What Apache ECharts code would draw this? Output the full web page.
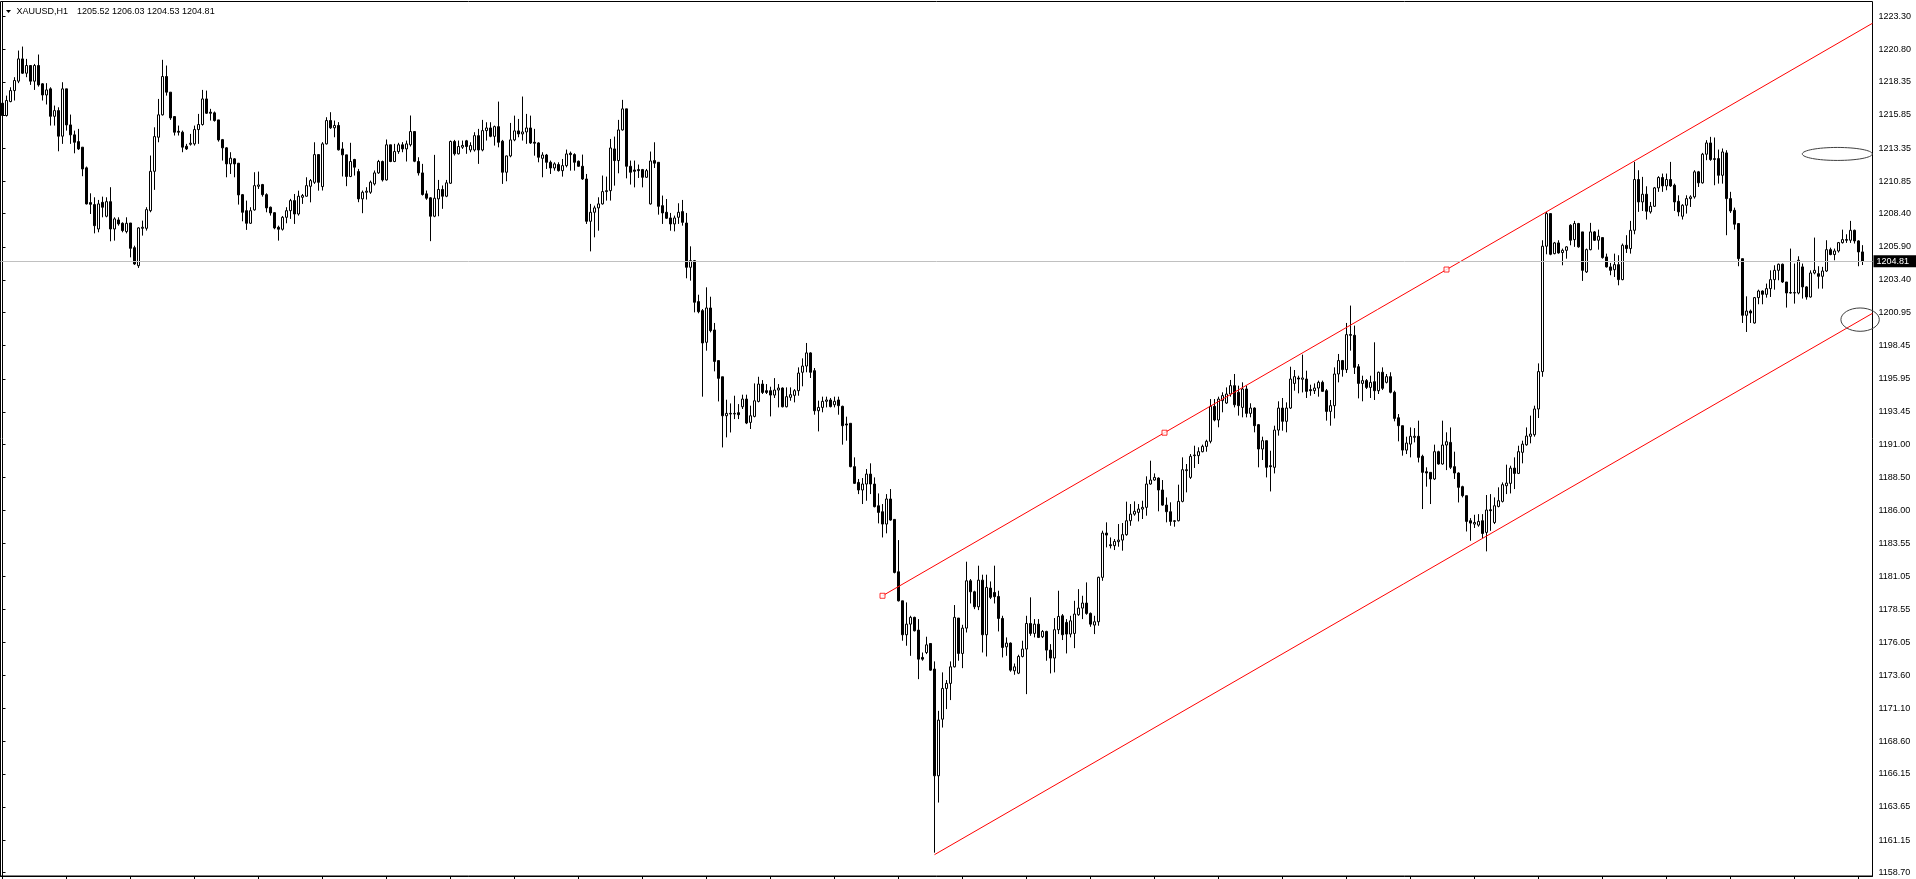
<!DOCTYPE html>
<html><head><meta charset="utf-8">
<script src="https://cdn.jsdelivr.net/npm/echarts@6/dist/echarts.min.js"></script>
<style>html,body{margin:0;padding:0;background:#fff;}#c{width:1916px;height:879px;}</style>
</head><body><div id="c"></div>
<script>
const symbolName = 'XAUUSD,H1';
const lastBar = [1205.52, 1206.03, 1204.53, 1204.81]; // open high low close
const currentPrice = 1204.81;
// one row per H1 bar: [open, high, low, close]
const ohlc = [
[1216.74,1216.94,1215.73,1215.81],[1215.81,1217.31,1215.73,1216.94],[1216.86,1217.94,1216.81,1217.69],[1217.69,1218.70,1216.94,1218.45],
[1218.40,1220.71,1218.25,1220.08],[1220.08,1221.01,1218.95,1219.00],[1219.00,1220.08,1218.70,1219.58],[1219.58,1219.58,1218.12,1218.40],
[1218.40,1219.70,1217.74,1219.58],[1219.58,1220.41,1217.99,1218.12],[1218.20,1218.25,1216.94,1217.36],[1217.36,1218.25,1216.64,1217.74],
[1217.82,1217.94,1215.05,1215.75],[1215.75,1216.56,1215.05,1216.18],[1216.18,1216.43,1213.11,1214.25],[1214.25,1218.32,1213.67,1217.82],
[1217.82,1217.82,1214.67,1215.10],[1215.10,1215.88,1213.67,1214.35],[1214.35,1214.67,1212.96,1213.79],[1213.84,1214.80,1213.21,1213.29],
[1213.42,1213.42,1211.23,1211.78],[1211.86,1211.96,1209.10,1209.14],[1209.24,1209.94,1208.38,1209.11],[1209.09,1209.64,1206.92,1207.50],
[1207.25,1209.44,1207.00,1209.14],[1209.26,1209.69,1208.13,1208.89],[1208.21,1209.64,1208.13,1209.31],[1209.31,1210.40,1206.32,1207.25],
[1207.25,1208.13,1206.37,1208.01],[1207.93,1208.13,1207.50,1207.63],[1207.68,1207.75,1207.00,1207.13],[1207.05,1208.13,1206.92,1207.68],
[1207.70,1207.70,1205.11,1205.79],[1205.84,1205.99,1204.54,1204.61],[1204.48,1207.38,1204.31,1207.33],[1207.30,1207.88,1206.75,1207.38],
[1207.30,1208.89,1207.13,1208.71],[1208.63,1212.79,1208.51,1211.60],[1211.60,1214.92,1210.20,1214.22],[1214.17,1217.06,1213.79,1215.86],
[1215.86,1220.01,1215.81,1218.75],[1218.75,1219.58,1217.31,1217.57],[1217.57,1217.57,1215.48,1215.63],[1215.73,1215.73,1214.30,1214.55],
[1214.62,1215.05,1214.30,1214.55],[1214.55,1214.67,1213.04,1213.42],[1213.49,1213.67,1213.21,1213.29],[1213.64,1214.42,1213.54,1213.72],
[1213.67,1215.05,1213.54,1214.75],[1214.75,1215.93,1213.67,1215.13],[1215.13,1217.74,1215.05,1217.06],[1217.06,1217.69,1215.93,1215.98],
[1216.06,1216.31,1215.43,1215.98],[1216.01,1216.11,1215.35,1215.43],[1215.48,1215.48,1213.84,1213.97],[1213.99,1214.04,1212.41,1213.37],
[1213.37,1213.42,1211.15,1212.16],[1212.16,1213.04,1211.40,1212.59],[1212.54,1212.59,1211.15,1212.16],[1212.21,1212.23,1209.09,1209.82],
[1209.84,1209.89,1207.83,1208.51],[1208.63,1209.39,1207.18,1207.68],[1207.68,1208.89,1207.63,1208.63],[1208.69,1211.53,1208.63,1210.52],
[1210.47,1211.58,1210.27,1210.57],[1210.60,1210.65,1209.69,1209.84],[1209.84,1209.94,1208.51,1208.84],[1208.89,1208.94,1208.26,1208.46],
[1208.48,1208.51,1207.23,1207.33],[1207.38,1207.50,1206.37,1207.23],[1207.23,1208.23,1207.13,1208.13],[1208.13,1208.89,1207.68,1208.63],
[1208.63,1209.52,1208.01,1209.39],[1209.39,1209.89,1207.63,1208.38],[1208.38,1210.14,1208.26,1209.72],[1209.64,1209.89,1209.14,1209.77],
[1209.72,1211.15,1209.69,1210.52],[1210.47,1211.02,1209.26,1210.90],[1210.77,1213.79,1210.65,1212.86],[1212.86,1212.86,1210.14,1210.77],
[1210.45,1213.80,1210.15,1213.67],[1213.67,1215.68,1213.62,1215.43],[1215.43,1216.06,1214.80,1214.88],[1214.88,1215.43,1214.17,1215.06],
[1215.06,1215.31,1213.17,1213.22],[1213.29,1213.80,1211.21,1212.84],[1212.84,1212.84,1210.48,1211.21],[1211.21,1213.75,1211.16,1212.34],
[1212.49,1212.54,1211.28,1211.91],[1211.58,1211.78,1209.27,1209.52],[1209.52,1210.15,1208.44,1210.02],[1210.02,1210.40,1209.47,1210.10],
[1210.02,1210.90,1209.90,1210.78],[1210.65,1211.66,1210.53,1211.48],[1211.48,1212.46,1211.41,1212.34],[1212.34,1212.41,1210.83,1210.95],
[1210.95,1214.00,1210.90,1213.60],[1213.60,1213.60,1212.29,1212.34],[1212.34,1213.67,1212.29,1213.09],[1213.09,1213.75,1212.92,1213.60],
[1213.60,1213.80,1213.04,1213.29],[1213.29,1213.92,1212.34,1213.67],[1213.60,1215.81,1213.47,1214.60],[1214.60,1214.60,1212.29,1212.36],
[1212.34,1212.66,1211.28,1211.48],[1211.48,1212.16,1209.77,1209.85],[1209.90,1210.15,1209.45,1209.57],[1209.60,1209.65,1206.33,1208.21],
[1208.21,1212.84,1208.14,1209.57],[1209.52,1210.95,1208.21,1210.23],[1210.23,1210.53,1208.77,1209.72],[1209.72,1210.95,1209.65,1210.73],
[1210.70,1213.92,1210.65,1213.85],[1213.85,1213.97,1212.79,1212.92],[1212.92,1213.92,1212.87,1213.47],[1213.42,1213.92,1213.29,1213.55],
[1213.90,1213.97,1212.92,1213.47],[1213.21,1213.79,1213.04,1213.54],[1213.21,1214.55,1213.09,1214.29],[1214.29,1214.80,1212.16,1213.21],
[1213.21,1215.48,1213.11,1214.67],[1214.67,1215.30,1213.92,1214.87],[1214.87,1215.30,1214.17,1214.24],[1214.24,1215.05,1213.54,1214.97],
[1214.97,1216.86,1213.41,1213.79],[1213.87,1213.97,1210.65,1211.53],[1211.53,1212.78,1210.85,1212.76],[1212.76,1215.25,1212.66,1213.97],
[1213.97,1215.80,1213.87,1214.65],[1214.65,1215.55,1214.17,1214.42],[1214.42,1217.24,1213.92,1214.57],[1214.57,1215.93,1213.67,1214.87],
[1214.87,1215.80,1213.67,1213.74],[1213.79,1214.80,1212.78,1213.72],[1213.74,1213.79,1212.28,1212.66],[1212.58,1213.04,1211.15,1212.83],
[1212.83,1212.91,1211.78,1212.28],[1212.28,1212.41,1211.40,1211.85],[1211.85,1212.28,1211.65,1212.16],[1212.11,1212.28,1211.58,1211.65],
[1211.65,1212.53,1211.20,1212.03],[1212.03,1213.24,1211.90,1212.91],[1212.96,1213.09,1211.65,1212.86],[1212.86,1212.96,1211.65,1212.28],
[1212.36,1212.41,1211.95,1211.98],[1211.98,1212.86,1210.95,1211.02],[1211.02,1211.40,1207.63,1207.83],[1207.83,1209.14,1205.56,1208.51],
[1208.51,1209.01,1206.62,1208.84],[1208.84,1209.64,1207.12,1209.14],[1209.14,1211.28,1209.09,1210.07],[1210.07,1211.20,1209.39,1210.14],
[1210.14,1214.04,1209.39,1213.36],[1213.29,1214.22,1210.52,1212.41],[1212.41,1215.48,1211.45,1214.72],[1214.72,1216.99,1214.67,1216.31],
[1216.31,1216.31,1211.07,1211.98],[1211.98,1212.41,1210.60,1211.53],[1211.70,1212.41,1210.39,1211.60],[1211.73,1212.11,1211.10,1211.65],
[1211.73,1211.78,1210.39,1211.15],[1211.15,1211.78,1211.10,1211.65],[1209.14,1213.09,1209.09,1212.38],[1212.41,1213.79,1211.85,1212.21],
[1212.28,1212.28,1208.33,1208.96],[1209.01,1209.77,1207.63,1208.46],[1208.51,1209.51,1208.01,1208.06],[1208.08,1208.46,1207.12,1207.63],
[1207.63,1208.26,1207.07,1208.08],[1208.13,1209.19,1207.63,1208.51],[1208.56,1209.44,1207.50,1207.75],[1207.70,1208.46,1203.53,1204.36],
[1204.36,1205.94,1203.35,1204.86],[1204.86,1204.91,1200.96,1201.72],[1201.77,1202.29,1200.89,1201.01],[1201.09,1201.21,1194.60,1198.65],
[1198.70,1202.85,1198.07,1201.29],[1201.29,1202.14,1199.45,1199.58],[1199.63,1200.16,1196.51,1197.26],[1197.32,1197.32,1194.24,1195.98],
[1196.10,1196.10,1190.77,1193.16],[1193.16,1194.37,1191.53,1193.34],[1193.29,1194.09,1191.90,1193.34],[1193.29,1194.67,1192.91,1193.34],
[1193.39,1194.04,1192.91,1193.24],[1193.84,1194.75,1193.67,1194.42],[1194.42,1194.75,1192.53,1192.61],[1192.66,1193.92,1192.16,1193.16],
[1193.11,1195.60,1193.04,1194.29],[1194.24,1196.10,1194.17,1195.55],[1195.55,1195.85,1194.80,1194.92],[1195.05,1195.55,1194.80,1194.92],
[1195.05,1195.35,1193.11,1194.72],[1194.72,1196.00,1194.50,1195.10],[1195.10,1195.55,1193.79,1195.25],[1195.25,1195.30,1193.79,1193.84],
[1193.84,1195.30,1193.79,1194.60],[1194.55,1195.30,1194.29,1194.75],[1194.70,1195.17,1194.17,1195.05],[1195.05,1196.81,1194.67,1196.38],
[1196.44,1197.49,1195.38,1196.91],[1196.91,1198.65,1196.44,1197.90],[1197.90,1197.95,1196.01,1196.44],[1196.56,1196.76,1193.24,1193.54],
[1193.54,1194.30,1191.98,1193.79],[1193.79,1194.60,1193.42,1194.25],[1194.25,1194.60,1193.79,1194.35],[1194.35,1194.50,1193.79,1193.85],
[1193.99,1194.60,1193.79,1194.25],[1194.35,1194.60,1193.24,1193.92],[1193.87,1193.92,1190.98,1192.41],[1192.54,1193.09,1191.28,1192.46],
[1192.59,1192.59,1189.27,1189.32],[1189.32,1190.02,1188.01,1188.06],[1188.13,1188.39,1187.25,1187.56],[1187.56,1188.46,1186.50,1188.01],
[1188.01,1189.14,1186.75,1188.76],[1188.76,1189.57,1187.25,1188.01],[1188.01,1188.51,1186.25,1186.30],[1186.37,1187.30,1185.04,1185.87],
[1185.92,1186.50,1183.98,1184.99],[1184.99,1187.25,1184.29,1186.88],[1186.88,1187.63,1185.24,1185.29],[1185.34,1185.34,1181.27,1181.34],
[1181.39,1183.78,1179.15,1179.20],[1179.20,1179.20,1176.19,1176.64],[1176.64,1179.08,1175.81,1177.44],[1177.44,1178.07,1175.05,1177.95],
[1177.95,1178.00,1176.89,1176.94],[1176.99,1177.82,1173.29,1174.80],[1174.93,1175.30,1174.68,1174.80],[1175.30,1176.49,1175.18,1175.88],
[1175.98,1175.98,1173.92,1173.97],[1174.05,1174.63,1160.20,1166.00],[1166.00,1170.90,1163.98,1170.20],[1170.27,1173.80,1169.64,1172.59],
[1172.59,1173.22,1171.03,1172.97],[1172.97,1174.63,1171.71,1174.22],[1174.22,1178.88,1174.17,1177.95],[1177.90,1177.90,1174.68,1175.23],
[1175.23,1177.39,1174.12,1177.14],[1177.14,1182.15,1176.81,1180.71],[1180.71,1180.84,1179.00,1179.88],[1179.88,1179.96,1178.57,1178.75],
[1178.75,1181.85,1178.50,1180.76],[1180.76,1181.17,1175.30,1176.64],[1176.64,1181.17,1175.00,1180.21],[1180.16,1180.66,1179.33,1179.46],
[1179.83,1181.85,1179.00,1179.51],[1179.53,1179.96,1176.89,1177.87],[1177.87,1178.07,1174.93,1175.68],[1175.73,1176.44,1175.05,1176.01],
[1176.01,1176.06,1173.85,1173.97],[1173.92,1174.47,1173.62,1174.22],[1173.74,1175.13,1173.67,1175.00],[1175.00,1176.19,1174.93,1175.56],
[1175.56,1178.07,1172.16,1177.49],[1177.49,1179.46,1176.56,1176.74],[1176.74,1177.82,1176.44,1177.44],[1177.44,1177.82,1176.39,1176.44],
[1176.49,1176.99,1176.39,1176.89],[1176.89,1176.94,1174.68,1175.48],[1175.48,1175.93,1173.72,1174.88],[1174.88,1177.90,1173.80,1177.02],
[1177.02,1179.96,1176.69,1178.02],[1178.07,1178.20,1176.24,1176.64],[1177.57,1177.82,1175.23,1176.69],[1176.69,1178.07,1176.44,1177.69],
[1176.74,1179.20,1175.63,1178.20],[1178.15,1180.08,1178.07,1178.65],[1178.65,1179.58,1177.82,1179.03],[1179.03,1180.59,1178.15,1178.25],
[1178.25,1178.32,1177.24,1177.44],[1177.37,1178.07,1176.69,1177.62],[1177.62,1181.02,1177.32,1180.97],[1180.97,1184.49,1180.71,1184.31],
[1184.31,1185.12,1183.23,1184.16],[1183.43,1183.98,1183.15,1183.36],[1183.36,1183.86,1183.03,1183.68],[1183.66,1184.99,1183.28,1183.78],
[1183.78,1185.07,1182.98,1184.19],[1184.19,1186.68,1184.11,1185.24],[1185.24,1186.50,1184.86,1185.74],[1185.74,1186.70,1185.62,1185.95],
[1185.87,1186.50,1185.19,1186.12],[1186.12,1186.75,1185.37,1186.25],[1186.25,1188.59,1185.62,1188.01],[1188.01,1189.77,1187.96,1188.31],
[1188.31,1188.81,1188.26,1188.51],[1188.46,1188.51,1185.95,1187.56],[1187.56,1188.31,1186.37,1186.42],[1186.42,1187.00,1185.12,1185.92],
[1185.92,1186.63,1184.86,1185.19],[1185.19,1185.29,1184.79,1185.24],[1185.24,1187.96,1185.19,1186.70],[1186.70,1190.02,1186.63,1189.09],
[1189.02,1189.52,1187.38,1189.09],[1188.51,1190.27,1188.39,1190.10],[1190.15,1190.90,1189.22,1190.20],[1190.15,1190.78,1189.52,1190.45],
[1190.45,1190.98,1190.40,1190.85],[1190.85,1191.35,1190.45,1191.23],[1191.23,1194.42,1191.08,1193.87],[1193.87,1194.42,1192.74,1192.84],
[1192.84,1194.60,1192.29,1194.42],[1194.30,1194.93,1193.42,1194.68],[1194.12,1195.30,1194.05,1194.80],[1194.80,1195.86,1194.60,1195.43],
[1195.43,1196.31,1193.79,1193.99],[1194.93,1195.43,1193.17,1193.92],[1193.79,1195.68,1193.04,1195.18],[1195.18,1195.43,1193.04,1193.34],
[1193.34,1194.10,1193.04,1193.74],[1193.74,1193.79,1191.91,1192.41],[1192.49,1192.54,1189.27,1190.65],[1190.65,1191.58,1189.82,1191.28],
[1191.28,1191.28,1188.51,1189.27],[1189.39,1190.52,1187.45,1189.32],[1189.27,1192.41,1188.81,1192.08],[1192.08,1194.25,1191.66,1193.74],
[1193.74,1194.50,1192.03,1192.74],[1192.74,1194.17,1191.91,1193.74],[1193.74,1196.86,1193.67,1195.93],[1195.60,1196.61,1195.05,1196.11],
[1196.01,1196.18,1194.85,1195.93],[1195.91,1197.77,1194.92,1196.01],[1195.93,1196.56,1194.50,1195.00],[1195.13,1195.50,1194.67,1195.05],
[1195.05,1195.60,1194.80,1195.25],[1195.25,1195.81,1194.60,1195.68],[1195.68,1195.81,1194.98,1195.00],[1195.05,1195.18,1192.79,1193.49],
[1193.49,1194.35,1192.41,1193.92],[1193.92,1196.81,1192.96,1196.31],[1196.31,1197.82,1195.68,1197.32],[1197.32,1197.37,1196.11,1196.64],
[1196.64,1200.16,1196.39,1199.28],[1199.28,1201.47,1198.07,1199.23],[1199.23,1199.96,1196.31,1196.81],[1196.86,1197.06,1194.47,1195.60],
[1195.60,1196.18,1194.25,1195.81],[1195.81,1195.93,1195.18,1195.30],[1195.30,1196.18,1194.50,1195.68],[1195.73,1198.70,1194.35,1195.05],
[1195.05,1196.49,1194.80,1196.44],[1196.44,1196.81,1195.10,1195.23],[1195.68,1196.31,1195.60,1196.11],[1196.11,1196.44,1194.85,1194.93],
[1194.93,1195.05,1192.74,1192.96],[1193.01,1193.29,1191.23,1192.41],[1192.41,1192.41,1190.15,1190.57],[1190.57,1191.58,1190.27,1191.10],
[1191.02,1192.28,1190.02,1191.61],[1191.53,1192.23,1191.15,1191.61],[1191.61,1192.79,1189.64,1190.02],[1190.10,1190.22,1186.12,1188.89],
[1188.94,1189.27,1187.81,1188.84],[1188.89,1188.89,1186.50,1188.39],[1188.39,1190.98,1188.31,1190.45],[1190.45,1190.52,1189.47,1189.52],
[1189.52,1192.79,1189.47,1190.95],[1190.95,1191.91,1189.06,1191.20],[1191.15,1192.28,1189.14,1189.27],[1189.32,1190.45,1188.39,1188.84],
[1188.84,1188.89,1186.62,1187.76],[1187.81,1187.88,1187.00,1187.13],[1187.13,1187.13,1184.43,1185.19],[1185.24,1185.44,1183.73,1185.06],
[1184.99,1185.69,1184.69,1185.11],[1184.91,1185.74,1184.79,1185.19],[1185.24,1185.74,1183.93,1184.28],[1184.36,1187.18,1182.93,1186.05],
[1186.07,1187.25,1184.48,1186.00],[1185.11,1187.00,1184.99,1186.37],[1186.32,1187.76,1186.25,1186.75],[1186.70,1188.13,1186.62,1187.96],
[1187.88,1189.47,1187.25,1188.08],[1188.06,1189.39,1187.30,1189.21],[1189.21,1190.02,1187.63,1188.81],[1188.81,1190.90,1188.76,1190.45],
[1190.40,1191.28,1189.57,1191.02],[1190.97,1192.28,1190.90,1191.63],[1191.61,1193.17,1191.08,1191.78],[1191.73,1193.92,1191.58,1193.67],
[1193.67,1197.11,1192.99,1196.49],[1196.49,1206.40,1196.10,1205.95],[1205.95,1208.54,1205.34,1208.41],[1208.41,1208.41,1205.27,1205.34],
[1205.39,1206.27,1205.34,1206.20],[1206.20,1206.40,1205.39,1205.44],[1205.47,1205.77,1204.51,1205.64],[1205.64,1205.95,1205.01,1205.90],
[1207.53,1207.61,1206.02,1206.40],[1206.45,1207.86,1205.90,1207.66],[1207.66,1207.71,1205.84,1205.90],[1207.03,1207.03,1203.33,1204.13],
[1204.01,1205.77,1203.93,1205.69],[1205.69,1207.71,1205.64,1207.03],[1207.03,1207.10,1206.35,1206.40],[1206.40,1207.20,1205.69,1206.70],
[1206.60,1206.60,1205.01,1205.09],[1205.14,1205.39,1204.34,1204.39],[1204.39,1204.69,1203.76,1204.13],[1204.18,1205.39,1203.63,1204.56],
[1204.56,1205.27,1203.00,1203.43],[1203.43,1206.15,1203.38,1206.02],[1206.02,1206.78,1205.44,1205.77],[1205.77,1207.86,1205.39,1207.15],
[1207.15,1212.31,1206.85,1210.98],[1210.98,1211.68,1208.54,1209.29],[1209.29,1211.18,1208.61,1209.87],[1209.87,1210.47,1207.96,1208.59],
[1208.54,1209.29,1208.41,1208.96],[1208.96,1210.42,1208.91,1210.35],[1210.35,1211.23,1210.05,1211.13],[1211.13,1211.43,1210.05,1210.50],
[1210.50,1211.43,1210.17,1210.98],[1210.98,1212.31,1210.42,1210.50],[1210.55,1210.67,1208.61,1209.29],[1209.34,1209.79,1208.21,1208.54],
[1208.21,1209.12,1207.96,1209.04],[1209.04,1209.79,1208.41,1209.54],[1209.54,1209.79,1208.91,1209.67],[1209.67,1211.68,1209.54,1211.56],
[1211.56,1211.63,1210.42,1210.73],[1210.73,1212.99,1210.67,1212.89],[1212.89,1213.95,1212.44,1213.74],[1213.74,1214.20,1212.39,1212.49],
[1212.49,1214.15,1210.55,1212.56],[1212.56,1213.24,1210.67,1211.30],[1211.30,1213.32,1210.67,1213.06],[1212.99,1213.19,1206.78,1209.54],
[1209.54,1210.05,1208.46,1208.61],[1208.66,1208.86,1207.20,1207.61],[1207.66,1207.66,1204.44,1205.01],[1205.01,1205.01,1200.16,1200.74],
[1200.74,1202.17,1199.48,1201.06],[1201.06,1201.17,1200.16,1200.91],[1200.16,1202.12,1200.11,1202.07],[1202.07,1202.67,1201.57,1202.57],
[1202.57,1202.62,1201.57,1202.32],[1202.32,1203.13,1202.07,1202.75],[1202.75,1204.13,1202.12,1203.43],[1203.43,1204.51,1202.67,1204.13],
[1204.13,1204.64,1203.38,1204.59],[1204.59,1204.64,1203.18,1203.25],[1203.25,1203.25,1201.32,1202.42],[1202.45,1205.77,1202.37,1202.42],
[1202.42,1204.64,1201.62,1202.45],[1202.42,1205.19,1202.32,1204.89],[1204.39,1204.64,1202.00,1202.88],[1202.88,1202.93,1201.92,1202.12],
[1202.12,1204.13,1202.07,1203.93],[1203.93,1206.60,1203.83,1204.13],[1203.88,1204.44,1202.75,1203.68],[1203.68,1204.39,1202.75,1204.08],
[1204.08,1206.40,1204.01,1205.69],[1205.69,1205.84,1205.27,1205.32],[1205.32,1205.77,1204.89,1205.59],[1205.59,1206.27,1205.47,1206.22],
[1206.22,1207.20,1206.15,1206.45],[1206.45,1206.85,1206.20,1206.40],[1206.40,1207.86,1206.20,1207.15],[1207.15,1207.20,1206.15,1206.35],
[1206.35,1206.40,1204.44,1205.52],[1205.52,1206.03,1204.53,1204.81]
];
const emptySlots = 2; // blank bar slots right of the last bar
const yTicks = [1158.70,1161.15,1163.65,1166.15,1168.60,1171.10,1173.60,1176.05,1178.55,1181.05,1183.55,1186.00,1188.50,
  1191.00,1193.45,1195.95,1198.45,1200.95,1203.40,1205.90,1208.40,1210.85,1213.35,1215.85,1218.35,1220.80,1223.30];
const yMin = 1158.44, yMax = 1224.41;
const xTickEvery = 16;
// drawing objects, in [bar index, price]
const channelUpper = [[220, 1179.58], [467.5, 1222.77]];
const channelLower = [[233, 1160.05], [467.5, 1200.89]];
const channelAnchors = [[220, 1179.58], [290.5, 1191.88], [361, 1204.19]];
const ellipseObjs = [
  {c: [458.7, 1212.91], r: [8.75, 0.49]},
  {c: [464.4, 1200.41], r: [4.8, 0.88]}
];

const nSlots = ohlc.length + emptySlots;
const cats = [];
for (let i = 0; i < nSlots; i++) cats.push(String(i));
const candleData = ohlc.map(r => [r[0], r[3], r[2], r[1]]);
for (let i = 0; i < emptySlots; i++) candleData.push('-');

const FONT = "'Liberation Sans', Arial, sans-serif";
const chart = echarts.init(document.getElementById('c'), null, {renderer: 'canvas'});
chart.setOption({
  animation: false,
  backgroundColor: '#ffffff',
  grid: {left: 0.5, right: 43.5, top: 1.5, bottom: 3, show: true, borderColor: '#000', borderWidth: 1, backgroundColor: 'transparent'},
  xAxis: [{
    type: 'category', data: cats, boundaryGap: true, position: 'bottom',
    axisLine: {show: true, lineStyle: {color: '#000', width: 1}},
    axisTick: {show: true, interval: xTickEvery - 1, alignWithLabel: true, length: 3, lineStyle: {color: '#000'}},
    axisLabel: {show: false}, splitLine: {show: false}
  }, {
    type: 'value', min: -0.5, max: nSlots - 0.5, show: false, gridIndex: 0
  }],
  yAxis: {
    type: 'value', position: 'right', min: yMin, max: yMax, scale: true,
    axisLine: {show: true, lineStyle: {color: '#000', width: 1}},
    axisTick: {show: true, customValues: yTicks, length: 3, lineStyle: {color: '#000'}},
    axisLabel: {show: true, customValues: yTicks, formatter: v => v.toFixed(2), color: '#000', fontSize: 9, fontFamily: FONT, margin: 6},
    splitLine: {show: false}
  },
  series: [{
    type: 'candlestick', data: candleData, barWidth: 2,
    itemStyle: {color: '#ffffff', color0: '#000000', borderColor: '#000000', borderColor0: '#000000', borderWidth: 1},
    markLine: {
      silent: true, symbol: ['none', 'none'], animation: false,
      lineStyle: {color: '#c0c0c0', width: 1, type: 'solid'},
      label: {show: true, position: 'end', distance: 1, formatter: currentPrice.toFixed(2), backgroundColor: '#000', color: '#fff',
        fontSize: 9, fontFamily: FONT, padding: [2, 7, 1, 3]},
      data: [{yAxis: currentPrice}]
    },
    z: 2
  }, {
    type: 'line', xAxisIndex: 1, data: channelUpper, showSymbol: false, symbol: 'none',
    lineStyle: {color: '#ff0000', width: 1}, z: 4, silent: true
  }, {
    type: 'line', xAxisIndex: 1, data: channelLower, showSymbol: false, symbol: 'none',
    lineStyle: {color: '#ff0000', width: 1}, z: 4, silent: true
  }, {
    type: 'scatter', xAxisIndex: 1, data: channelAnchors, symbol: 'rect', symbolSize: 5,
    itemStyle: {color: '#ffffff', borderColor: '#ff0000', borderWidth: 1}, z: 5, silent: true
  }]
});

// ellipse drawing objects placed through the chart's own coordinate conversion
const gfx = [];
ellipseObjs.forEach(e => {
  const c = chart.convertToPixel({xAxisIndex: 1, yAxisIndex: 0}, e.c);
  const p = chart.convertToPixel({xAxisIndex: 1, yAxisIndex: 0}, [e.c[0] + e.r[0], e.c[1] + e.r[1]]);
  gfx.push({type: 'ellipse', shape: {cx: c[0], cy: c[1], rx: Math.abs(p[0] - c[0]), ry: Math.abs(c[1] - p[1])},
    style: {fill: null, stroke: '#404040', lineWidth: 1}, z: 100, silent: true});
});
gfx.push({type: 'polygon', shape: {points: [[6, 10], [11, 10], [8.5, 13]]}, style: {fill: '#000'}, z: 100});
gfx.push({type: 'text', x: 16.5, y: 12, style: {text: symbolName, font: '9px ' + FONT, fill: '#000', textVerticalAlign: 'middle'}, z: 100});
gfx.push({type: 'text', x: 77, y: 12, style: {text: lastBar.map(v => v.toFixed(2)).join(' '), font: '9px ' + FONT, fill: '#000', textVerticalAlign: 'middle'}, z: 100});
chart.setOption({graphic: gfx});
</script>
</body></html>
